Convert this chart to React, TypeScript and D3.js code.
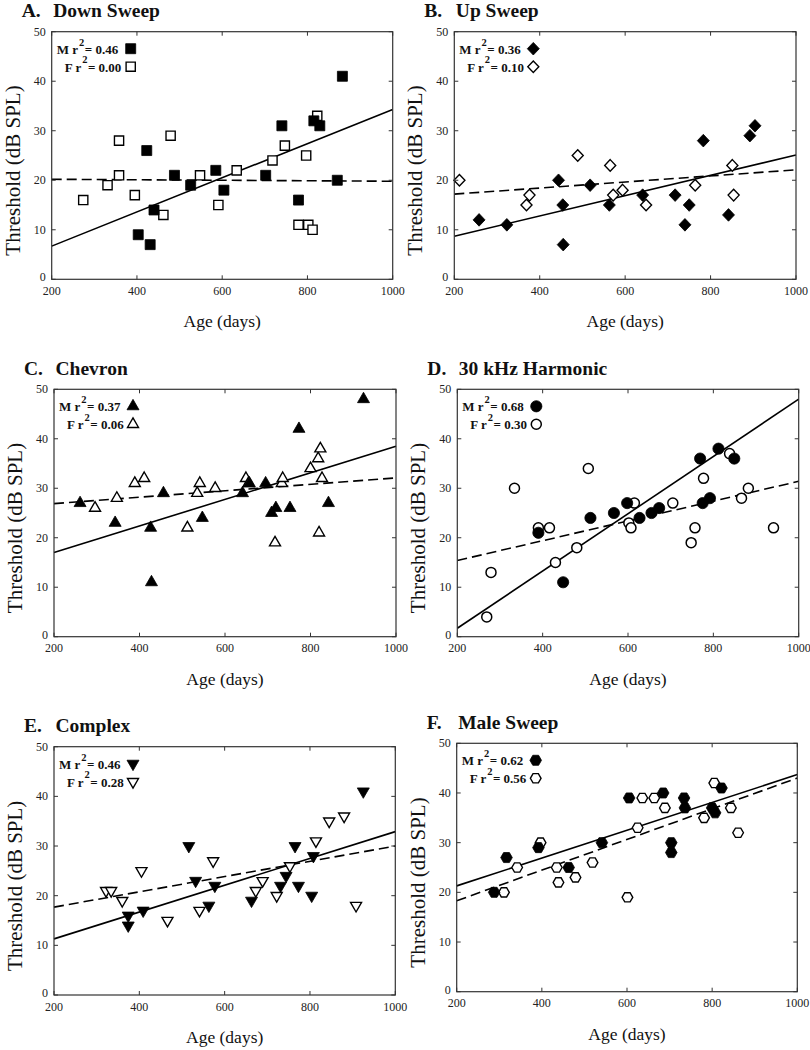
import React from "react";
import * as d3 from "d3";

// ---------- axis ticks ----------
const xTicks = [200, 400, 600, 800, 1000];
const yTicks = [0, 10, 20, 30, 40, 50];

// ---------- A. Down Sweep ----------
const downMale: [number, number][] = [
  [423, 26], [403, 9], [431, 7], [440, 14], [488, 21], [526, 19], [585, 22], [604, 18],
  [702, 21], [740, 31], [779, 16], [815, 32], [829, 31], [870, 20], [882, 41],
];
const downFemale: [number, number][] = [
  [274, 16], [331, 19], [358, 21], [358, 28], [395, 17], [462, 13], [479, 29], [548, 21],
  [591, 15], [634, 22], [718, 24], [747, 27], [797, 25], [779, 11], [802, 11], [812, 10], [823, 33],
];
const downMaleFit: [number, number][] = [[200, 6.7], [1000, 34.3]];
const downFemaleFit: [number, number][] = [[200, 20.2], [1000, 19.8]];
const downR2 = ["0.46", "0.00"];

// ---------- B. Up Sweep ----------
const upMale: [number, number][] = [
  [258, 12], [323, 11], [444, 20], [454, 15], [455, 7], [518, 19], [563, 15], [641, 17],
  [717, 17], [740, 11], [750, 15], [783, 28], [842, 13], [892, 29], [904, 31],
];
const upFemale: [number, number][] = [
  [212, 20], [369, 15], [376, 17], [489, 25], [565, 23], [572, 17], [594, 18], [649, 15],
  [764, 19], [851, 23], [854, 17],
];
const upMaleFit: [number, number][] = [[200, 8.7], [1000, 25.1]];
const upFemaleFit: [number, number][] = [[200, 17.2], [1000, 22.1]];
const upR2 = ["0.36", "0.10"];

// ---------- C. Chevron ----------
const chevMale: [number, number][] = [
  [261, 27], [343, 23], [426, 22], [428, 11], [456, 29], [547, 24], [641, 29], [657, 31],
  [695, 31], [709, 25], [719, 26], [752, 26], [773, 42], [842, 27], [924, 48],
];
const chevFemale: [number, number][] = [
  [296, 26], [347, 28], [389, 31], [411, 32], [512, 22], [535, 29], [541, 31], [577, 30],
  [649, 32], [655, 31], [717, 19], [733, 31], [735, 32], [800, 34], [818, 36], [823, 38],
  [827, 32], [820, 21],
];
const chevMaleFit: [number, number][] = [[200, 17], [1000, 38.5]];
const chevFemaleFit: [number, number][] = [[200, 26.9], [1000, 32.1]];
const chevR2 = ["0.37", "0.06"];

// ---------- D. 30 kHz Harmonic ----------
const harmMale: [number, number][] = [
  [390, 21], [448, 11], [512, 24], [567, 25], [598, 27], [627, 24], [655, 25], [673, 26],
  [769, 36], [775, 27], [792, 28], [812, 38], [849, 36],
];
const harmFemale: [number, number][] = [
  [269, 4], [279, 13], [334, 30], [390, 22], [416, 22], [430, 15], [480, 18], [507, 34],
  [602, 23], [607, 22], [615, 27], [705, 27], [748, 19], [757, 22], [777, 32], [838, 37],
  [866, 28], [882, 30], [941, 22],
];
const harmMaleFit: [number, number][] = [[200, 1.7], [1000, 48]];
const harmFemaleFit: [number, number][] = [[200, 15.4], [1000, 31.4]];
const harmR2 = ["0.68", "0.30"];

// ---------- E. Complex ----------
const complexMale: [number, number][] = [
  [374, 16], [374, 14], [409, 17], [516, 30], [532, 23], [563, 18], [577, 22], [663, 19],
  [731, 22], [744, 24], [765, 30], [773, 22], [808, 28], [804, 20], [925, 41],
];
const complexFemale: [number, number][] = [
  [322, 21], [334, 21], [360, 19], [405, 25], [466, 15], [541, 17], [573, 27], [673, 21],
  [689, 23], [722, 20], [753, 26], [814, 31], [845, 35], [880, 36], [908, 18],
];
const complexMaleFit: [number, number][] = [[200, 11.3], [1000, 32.9]];
const complexFemaleFit: [number, number][] = [[200, 17.7], [1000, 30]];
const complexR2 = ["0.46", "0.28"];

// ---------- F. Male Sweep ----------
const maleSweepMale: [number, number][] = [
  [288, 20], [317, 27], [392, 29], [463, 25], [541, 30], [605, 39], [685, 40], [704, 30],
  [704, 28], [734, 39], [736, 37], [800, 37], [807, 36], [822, 41],
];
const maleSweepFemale: [number, number][] = [
  [311, 20], [342, 25], [397, 30], [435, 25], [439, 22], [479, 23], [519, 26], [601, 19],
  [625, 33], [636, 39], [664, 39], [689, 37], [781, 35], [805, 42], [844, 37], [861, 32],
];
const maleSweepMaleFit: [number, number][] = [[200, 21.3], [1000, 43.7]];
const maleSweepFemaleFit: [number, number][] = [[200, 18.3], [1000, 43]];
const maleSweepR2 = ["0.62", "0.56"];

// ---------- drawing ----------
type Shape = "square" | "diamond" | "triangle" | "circle" | "tridown" | "hexagon";

const FONT = "'Liberation Serif', 'Times New Roman', serif";

function shapePath(shape: Shape): string {
  switch (shape) {
    case "square":
      return "M-5,-5H5V5H-5Z";
    case "diamond":
      return "M0,-6.3L6,0L0,6.3L-6,0Z";
    case "triangle": {
      const h = 10.4;
      return `M0,${-(2 * h) / 3}L6,${h / 3}L-6,${h / 3}Z`;
    }
    case "tridown": {
      const h = 10.4;
      return `M0,${(2 * h) / 3}L6,${-h / 3}L-6,${-h / 3}Z`;
    }
    case "hexagon": {
      const r = 5.8;
      const pts = d3.range(6).map((i) => {
        const a = (Math.PI / 3) * i;
        return [r * Math.cos(a), r * Math.sin(a)];
      });
      return "M" + pts.map((p) => p.join(",")).join("L") + "Z";
    }
    default:
      return "";
  }
}

function Marker({ shape, cx, cy, filled }: { shape: Shape; cx: number; cy: number; filled: boolean }) {
  const fill = filled ? "#000" : "#fff";
  const sw = filled ? 0.8 : 1.5;
  if (shape === "circle") {
    return <circle cx={cx} cy={cy} r={filled ? 5.6 : 5} fill={fill} stroke="#000" strokeWidth={sw} />;
  }
  const s = filled ? 1 : 0.92;
  return (
    <path
      d={shapePath(shape)}
      transform={`translate(${cx},${cy}) scale(${s})`}
      fill={fill}
      stroke="#000"
      strokeWidth={sw}
    />
  );
}

interface PanelProps {
  l: number;
  t: number;
  r: number;
  b: number;
  letter: string;
  name: string;
  male: [number, number][];
  female: [number, number][];
  maleFit: [number, number][];
  femaleFit: [number, number][];
  r2: string[];
  shape: Shape;
}

function Panel(p: PanelProps) {
  const x = d3.scaleLinear().domain([200, 1000]).range([p.l, p.r]);
  const y = d3.scaleLinear().domain([0, 50]).range([p.b, p.t]);
  const line = d3
    .line<[number, number]>()
    .x((d) => x(d[0]))
    .y((d) => y(d[1]));
  const tl = 4;
  const cxMid = (p.l + p.r) / 2;
  const cyMid = (p.t + p.b) / 2 + 15;
  const axisColor = "#333";
  const lx = p.l + 5;
  return (
    <g>
      {/* title */}
      <text x={p.l - 30} y={p.t - 14.5} fontFamily={FONT} fontWeight="bold" fontSize={19.5} fill="#111">
        {p.letter}
      </text>
      <text x={p.l + 1.5} y={p.t - 14.5} fontFamily={FONT} fontWeight="bold" fontSize={19.5} fill="#111">
        {p.name}
      </text>

      {/* fit lines */}
      <path d={line(p.femaleFit) || ""} fill="none" stroke="#000" strokeWidth={1.6} strokeDasharray="10,5" />
      <path d={line(p.maleFit) || ""} fill="none" stroke="#000" strokeWidth={1.6} />

      {/* markers */}
      {p.female.map((d, i) => (
        <Marker key={"f" + i} shape={p.shape} cx={x(d[0])} cy={y(d[1])} filled={false} />
      ))}
      {p.male.map((d, i) => (
        <Marker key={"m" + i} shape={p.shape} cx={x(d[0])} cy={y(d[1])} filled={true} />
      ))}

      {/* frame */}
      <rect x={p.l} y={p.t} width={p.r - p.l} height={p.b - p.t} fill="none" stroke={axisColor} strokeWidth={1.2} />

      {/* ticks */}
      {xTicks.map((v) => (
        <g key={"x" + v}>
          <line x1={x(v)} x2={x(v)} y1={p.b} y2={p.b - tl} stroke={axisColor} />
          <line x1={x(v)} x2={x(v)} y1={p.t} y2={p.t + tl} stroke={axisColor} />
          <text x={x(v)} y={p.b + 15.5} textAnchor="middle" fontFamily={FONT} fontSize={12} fill="#222">
            {v}
          </text>
        </g>
      ))}
      {yTicks.map((v) => (
        <g key={"y" + v}>
          <line x1={p.l} x2={p.l + tl} y1={y(v)} y2={y(v)} stroke={axisColor} />
          <line x1={p.r} x2={p.r - tl} y1={y(v)} y2={y(v)} stroke={axisColor} />
          <text x={p.l - 6} y={y(v) + (v === 0 ? 2 : 4)} textAnchor="end" fontFamily={FONT} fontSize={12} fill="#222">
            {v}
          </text>
        </g>
      ))}

      {/* axis labels */}
      <text x={cxMid} y={p.b + 48} textAnchor="middle" fontFamily={FONT} fontSize={17.5} fill="#111">
        Age (days)
      </text>
      <text
        transform={`translate(${p.l - 32},${cyMid}) rotate(-90)`}
        textAnchor="middle"
        fontFamily={FONT}
        fontSize={21}
        fill="#111"
      >
        Threshold (dB SPL)
      </text>

      {/* legend */}
      <g fontFamily={FONT} fontWeight="bold" fontSize={13} fill="#111">
        <text x={lx} y={p.t + 22}>
          <tspan>M r</tspan>
          <tspan dx={1} dy={-8} fontSize={10.5}>2</tspan>
          <tspan dx={0.5} dy={8}>= {p.r2[0]}</tspan>
        </text>
        <text x={lx + 8} y={p.t + 40}>
          <tspan>F r</tspan>
          <tspan dx={1} dy={-8.5} fontSize={10.5}>2</tspan>
          <tspan dx={0.5} dy={8.5}>= {p.r2[1]}</tspan>
        </text>
      </g>
      <Marker shape={p.shape} cx={p.l + 79} cy={p.t + 17} filled={true} />
      <Marker shape={p.shape} cx={p.l + 79} cy={p.t + 35} filled={false} />
    </g>
  );
}

export default function App() {
  return (
    <svg
      width={810}
      height={1050}
      viewBox="0 0 810 1050"
      style={{ position: "absolute", left: 0, top: 0, background: "#fff" }}
    >
      <rect x={0} y={0} width={810} height={1050} fill="#fff" />
      <Panel l={51.7} t={31.7} r={392.7} b={279.3} letter="A." name="Down Sweep"
        male={downMale} female={downFemale} maleFit={downMaleFit} femaleFit={downFemaleFit} r2={downR2} shape="square" />
      <Panel l={454.3} t={31.7} r={796} b={279.3} letter="B." name="Up Sweep"
        male={upMale} female={upFemale} maleFit={upMaleFit} femaleFit={upFemaleFit} r2={upR2} shape="diamond" />
      <Panel l={54} t={389.3} r={396} b={636.7} letter="C." name="Chevron"
        male={chevMale} female={chevFemale} maleFit={chevMaleFit} femaleFit={chevFemaleFit} r2={chevR2} shape="triangle" />
      <Panel l={457.3} t={389.3} r={798.7} b={636.7} letter="D." name="30 kHz Harmonic"
        male={harmMale} female={harmFemale} maleFit={harmMaleFit} femaleFit={harmFemaleFit} r2={harmR2} shape="circle" />
      <Panel l={54} t={746.7} r={395.3} b={995} letter="E." name="Complex"
        male={complexMale} female={complexFemale} maleFit={complexMaleFit} femaleFit={complexFemaleFit} r2={complexR2} shape="tridown" />
      <Panel l={456.7} t={743.3} r={797.3} b={991.7} letter="F." name="Male Sweep"
        male={maleSweepMale} female={maleSweepFemale} maleFit={maleSweepMaleFit} femaleFit={maleSweepFemaleFit} r2={maleSweepR2} shape="hexagon" />
    </svg>
  );
}
